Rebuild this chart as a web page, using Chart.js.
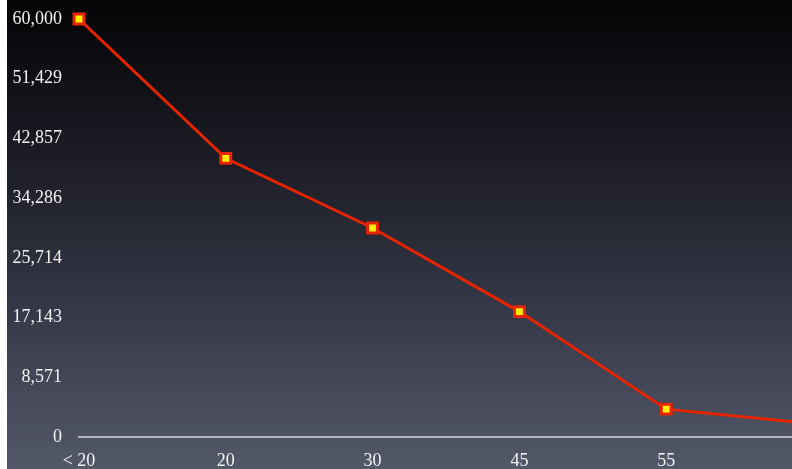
<!DOCTYPE html>
<html lang="en">
<head>
    <meta charset="UTF-8">
    <title>Chart</title>
    <script src="https://cdn.jsdelivr.net/npm/chart.js"></script>
    <style>
        html, body {
            margin: 0;
            padding: 0;
            width: 792px;
            height: 469px;
            overflow: hidden;
        }
        body {
            position: relative;
            background: linear-gradient(#040406 0%, #1c1d26 35%, #373a49 68%, #535869 100%);
        }
        /* the last point sits past the right edge, so the canvas is wider than the window */
        #wrap {
            width: 830px;
            height: 469px;
        }
        /* thin white margin on the left edge of the original slide */
        #edge {
            position: absolute;
            left: 0;
            top: 0;
            width: 7px;
            height: 469px;
            background: #ffffff;
        }
    </style>
</head>
<body>
    <div id="wrap">
        <canvas id="chart" width="830" height="469"></canvas>
    </div>
    <div id="edge"></div>

    <script>
        // data
        const categories = ['< 20', '20', '30', '45', '55', '65'];
        const values = [60000, 40000, 30000, 18000, 4000, 1900];
        const yMax = 60000;
        const yTickCount = 8; // 0, 8,571 ... 60,000

        const labelFont = { family: '"Liberation Serif", "Times New Roman", serif', size: 18 };

        const ctx = document.getElementById('chart').getContext('2d');
        new Chart(ctx, {
            type: 'line',
            data: {
                labels: categories,
                datasets: [{
                    data: values,
                    borderColor: '#e62400',
                    borderWidth: 3,
                    pointStyle: 'rect',
                    pointRadius: 7,
                    pointBorderWidth: 3,
                    pointBorderColor: '#e62400',
                    pointBackgroundColor: '#ffee00',
                    tension: 0,
                    clip: false
                }]
            },
            options: {
                responsive: false,
                animation: false,
                layout: {
                    padding: { top: 19, right: 17, left: 0, bottom: 0 }
                },
                plugins: {
                    legend: { display: false },
                    tooltip: { enabled: false }
                },
                scales: {
                    x: {
                        type: 'category',
                        offset: false,
                        grid: { display: false, drawTicks: false },
                        border: { display: true, color: '#b4b6be', width: 2 },
                        ticks: {
                            color: '#f2f2f2',
                            font: labelFont,
                            padding: 13,
                            maxRotation: 0,
                            autoSkip: false
                        },
                        afterFit: function(scale) {
                            scale.height = 32;
                            scale.paddingLeft = 0;
                            scale.paddingRight = 0;
                        }
                    },
                    y: {
                        min: 0,
                        max: yMax,
                        grid: { display: false, drawTicks: false },
                        border: { display: false },
                        ticks: {
                            count: yTickCount,
                            color: '#f2f2f2',
                            font: labelFont,
                            padding: 17,
                            callback: function(value) {
                                return Math.round(value).toLocaleString('en-US');
                            }
                        },
                        afterFit: function(scale) {
                            scale.width = 79;
                            scale.paddingTop = 0;
                            scale.paddingBottom = 0;
                        }
                    }
                }
            }
        });
    </script>
</body>
</html>
